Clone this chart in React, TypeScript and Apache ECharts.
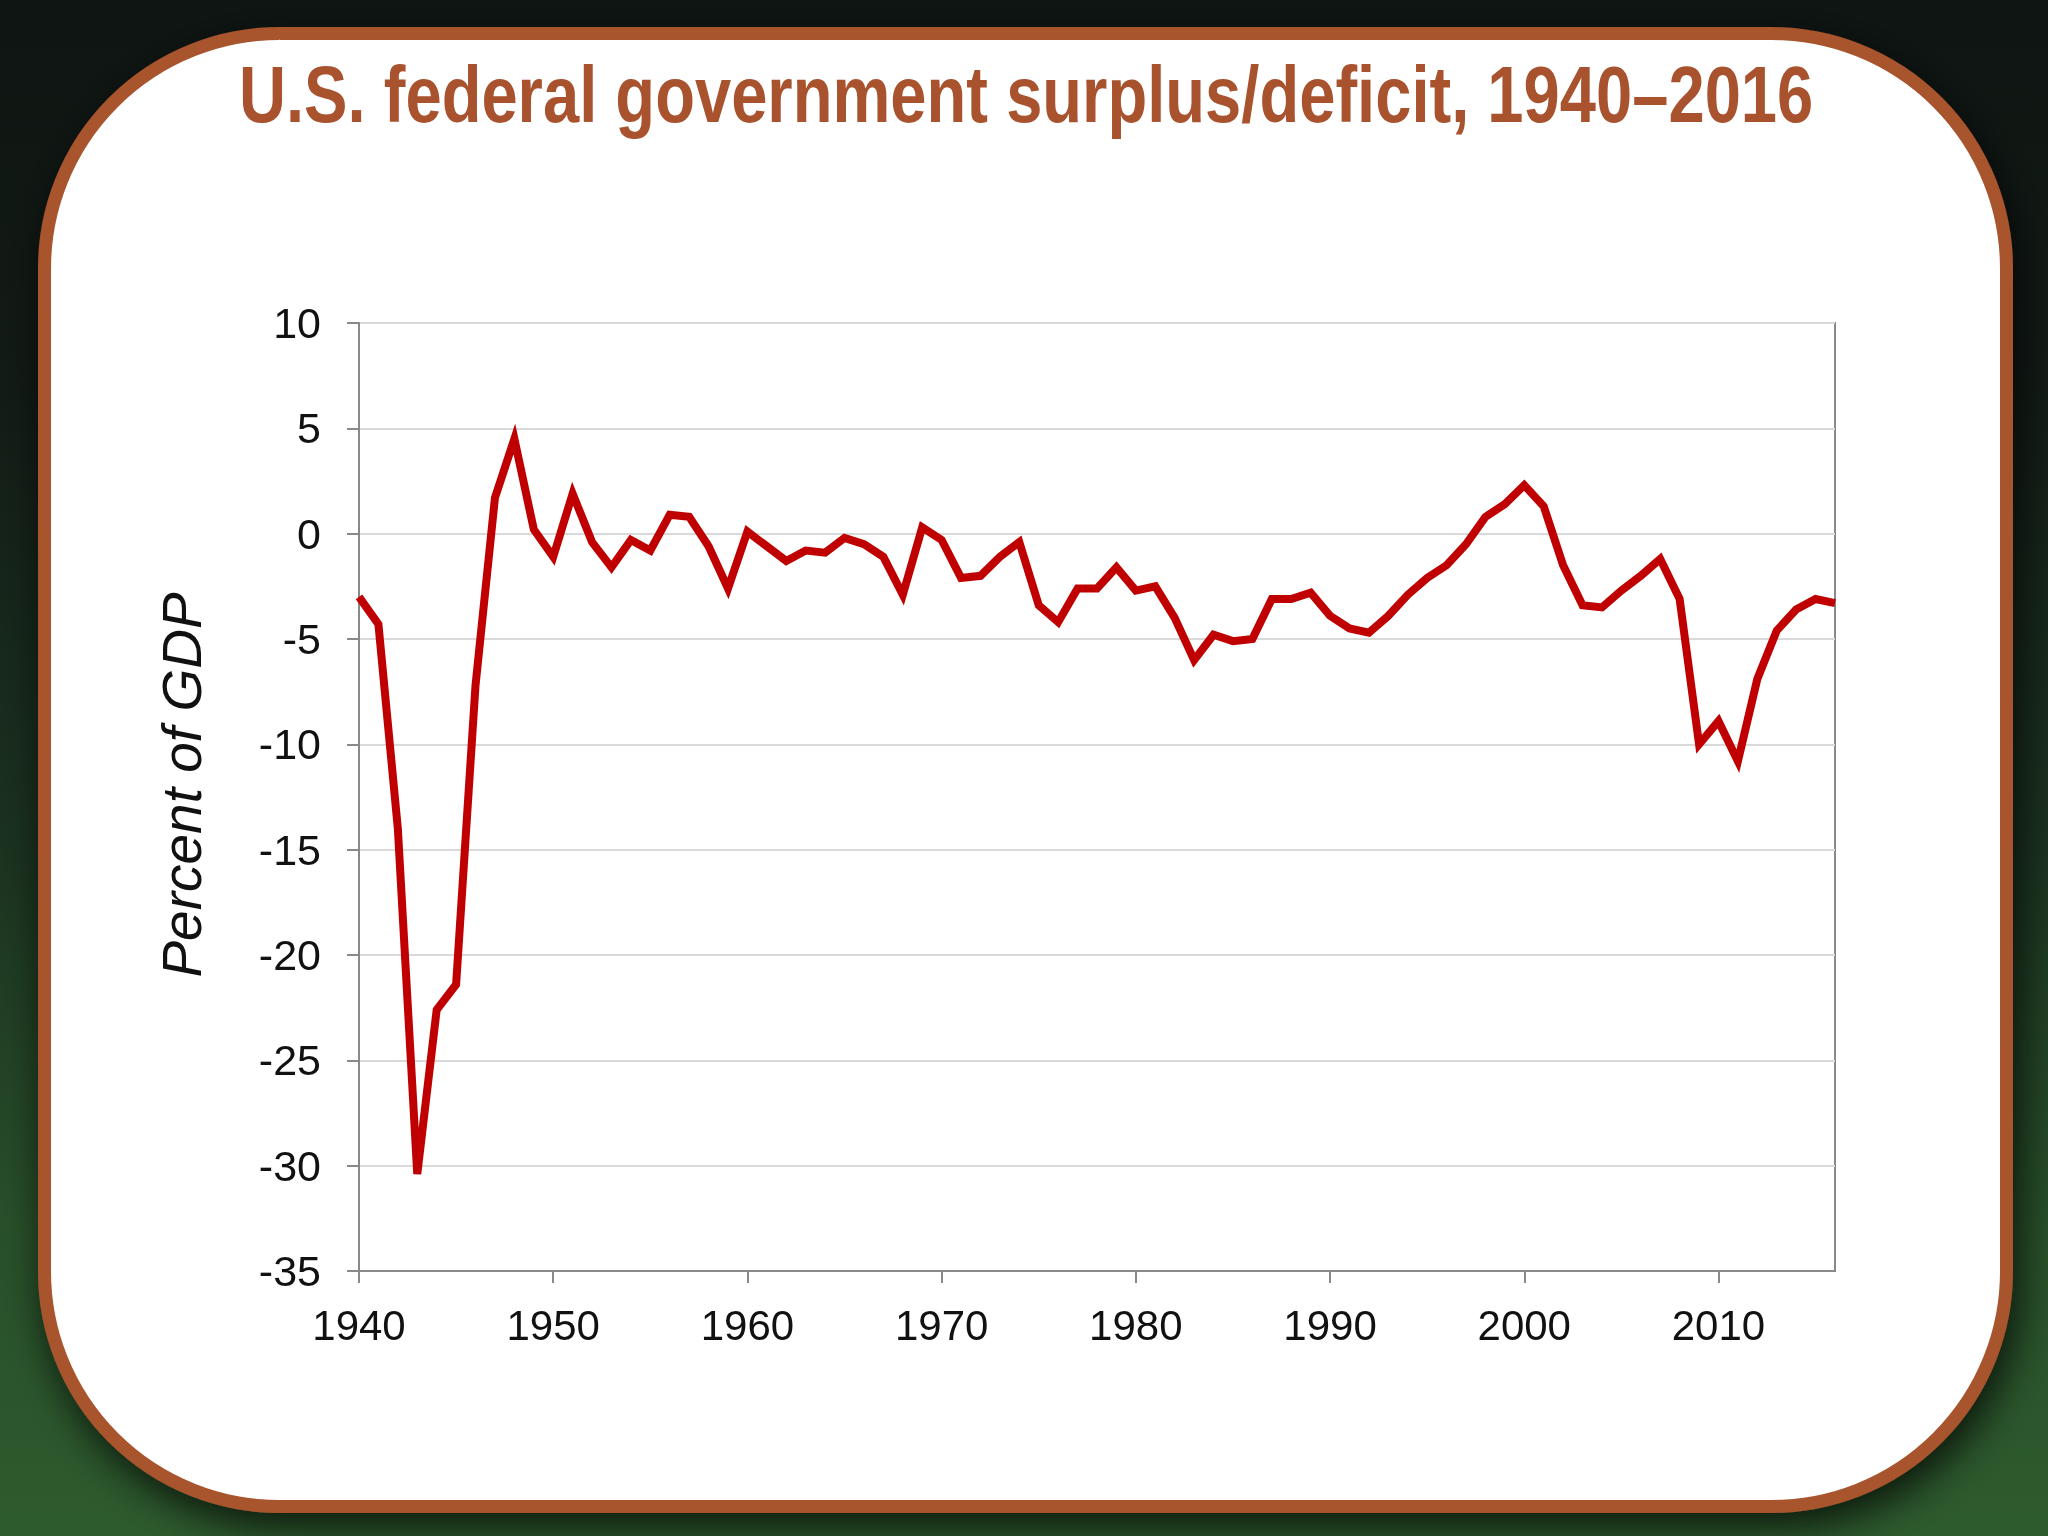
import React, { useEffect, useRef } from "react";
import * as echarts from "echarts";

const years: number[] = [
  1940, 1941, 1942, 1943, 1944, 1945, 1946, 1947, 1948, 1949,
  1950, 1951, 1952, 1953, 1954, 1955, 1956, 1957, 1958, 1959,
  1960, 1961, 1962, 1963, 1964, 1965, 1966, 1967, 1968, 1969,
  1970, 1971, 1972, 1973, 1974, 1975, 1976, 1977, 1978, 1979,
  1980, 1981, 1982, 1983, 1984, 1985, 1986, 1987, 1988, 1989,
  1990, 1991, 1992, 1993, 1994, 1995, 1996, 1997, 1998, 1999,
  2000, 2001, 2002, 2003, 2004, 2005, 2006, 2007, 2008, 2009,
  2010, 2011, 2012, 2013, 2014, 2015, 2016,
];

const surplusPctGdp: number[] = [
  -3.0, -4.3, -14.0, -30.4, -22.6, -21.4, -7.2, 1.7, 4.5, 0.2,
  -1.1, 1.9, -0.4, -1.6, -0.3, -0.8, 0.9, 0.8, -0.6, -2.6,
  0.1, -0.6, -1.3, -0.8, -0.9, -0.2, -0.5, -1.1, -2.9, 0.3,
  -0.3, -2.1, -2.0, -1.1, -0.4, -3.4, -4.2, -2.6, -2.6, -1.6,
  -2.7, -2.5, -4.0, -6.0, -4.8, -5.1, -5.0, -3.1, -3.1, -2.8,
  -3.9, -4.5, -4.7, -3.9, -2.9, -2.1, -1.5, -0.5, 0.8, 1.4,
  2.3, 1.3, -1.5, -3.4, -3.5, -2.7, -2.0, -1.2, -3.1, -10.0,
  -8.9, -10.8, -6.9, -4.6, -3.6, -3.1, -3.3,
];

const xTickYears: number[] = [1940, 1950, 1960, 1970, 1980, 1990, 2000, 2010];

const titleText = "U.S. federal government surplus/deficit, 1940–2016";
const yAxisTitle = "Percent of GDP";

export default function App() {
  const ref = useRef<HTMLDivElement | null>(null);

  useEffect(() => {
    if (!ref.current) return;
    const chart = echarts.init(ref.current, undefined, { renderer: "svg" });
    const seriesData = years.map((y, i) => [y, surplusPctGdp[i]]);
    const labelFont = '"Liberation Sans", Arial, sans-serif';

    chart.setOption({
      animation: false,
      graphic: [
        {
          type: "rect",
          z: -30,
          silent: true,
          shape: { x: 0, y: 0, width: 2048, height: 1536 },
          style: {
            fill: new echarts.graphic.LinearGradient(0, 0, 0, 1, [
              { offset: 0, color: "#0e1512" },
              { offset: 0.25, color: "#121b16" },
              { offset: 0.55, color: "#1b3220" },
              { offset: 0.8, color: "#28502a" },
              { offset: 1, color: "#2e5b2e" },
            ]),
          },
        },
        {
          type: "rect",
          z: -20,
          silent: true,
          shape: { x: 44.5, y: 33.5, width: 1962, height: 1473, r: 235 },
          style: {
            fill: "#ffffff",
            stroke: "#A8542F",
            lineWidth: 13,
            shadowBlur: 40,
            shadowColor: "rgba(0,0,0,0.75)",
            shadowOffsetX: 6,
            shadowOffsetY: 14,
          },
        },
        {
          type: "text",
          z: 10,
          x: 239,
          y: 94,
          scaleX: 0.814,
          style: {
            text: titleText,
            font: 'bold 80px "Liberation Sans", Arial, sans-serif',
            fill: "#A8522E",
            textAlign: "left",
            textVerticalAlign: "middle",
          },
        },
        {
          type: "text",
          z: 10,
          x: 182,
          y: 785,
          rotation: Math.PI / 2,
          style: {
            text: yAxisTitle,
            font: 'italic 55px "Liberation Sans", Arial, sans-serif',
            fill: "#111111",
            textAlign: "center",
            textVerticalAlign: "middle",
          },
        },
      ],
      grid: {
        left: 359,
        right: 213,
        top: 323,
        bottom: 265,
        show: true,
        borderColor: "#898989",
        borderWidth: 2,
        backgroundColor: "transparent",
      },
      xAxis: {
        type: "value",
        min: 1940,
        max: 2016,
        interval: 10,
        axisLine: { show: true, onZero: false, lineStyle: { color: "#898989", width: 2 } },
        axisTick: {
          show: true,
          length: 12,
          customValues: xTickYears,
          lineStyle: { color: "#898989", width: 2 },
        },
        axisLabel: {
          customValues: xTickYears,
          formatter: (v: number) => String(v),
          fontSize: 42,
          fontFamily: labelFont,
          color: "#111111",
          margin: 33,
        },
        splitLine: { show: false },
      },
      yAxis: {
        type: "value",
        min: -35,
        max: 10,
        interval: 5,
        axisLine: { show: true, onZero: false, lineStyle: { color: "#898989", width: 2 } },
        axisTick: { show: true, length: 12, lineStyle: { color: "#898989", width: 2 } },
        axisLabel: {
          fontSize: 43,
          fontFamily: labelFont,
          color: "#111111",
          margin: 38,
        },
        splitLine: { show: true, lineStyle: { color: "#d9d9d9", width: 2 } },
      },
      series: [
        {
          type: "line",
          data: seriesData,
          symbol: "none",
          lineStyle: { color: "#C00000", width: 8, join: "miter" },
          z: 5,
        },
      ],
    });

    return () => chart.dispose();
  }, []);

  return (
    <div
      ref={ref}
      style={{ position: "fixed", left: 0, top: 0, width: 2048, height: 1536 }}
    />
  );
}
